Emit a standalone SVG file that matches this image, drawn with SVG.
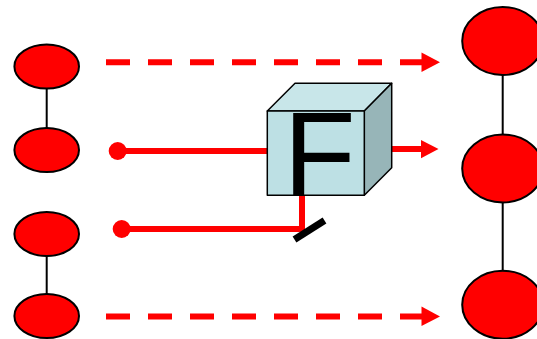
<svg xmlns="http://www.w3.org/2000/svg" width="537" height="339" viewBox="0 0 537 339">
  <style>
    .node { fill: #ff0000; stroke: #000; stroke-width: 2; }
    .link { stroke: #000; stroke-width: 2; fill: none; }
    .beam { stroke: #ff0000; stroke-width: 6; fill: none; }
    .dash { stroke-dasharray: 24 18; }
    .head { fill: #ff0000; }
    .face { stroke: #000; stroke-width: 1.5; stroke-linejoin: round; }
  </style>

  <!-- connectors -->
  <g id="connectors">
    <!-- links inside the left pairs and the right column -->
    <line class="link" x1="46.7" y1="88.5" x2="46.7" y2="128"/>
    <line class="link" x1="46.7" y1="256" x2="46.7" y2="294"/>
    <line class="link" x1="502.7" y1="75" x2="502.7" y2="135"/>
    <line class="link" x1="502.7" y1="202" x2="502.7" y2="271"/>

    <!-- dashed beams, top and bottom -->
    <line class="beam dash" x1="106" y1="62.3" x2="424" y2="62.3"/>
    <polygon class="head" points="421.5,52.5 440,62.3 421.5,72"/>
    <line class="beam dash" x1="106" y1="316.5" x2="424" y2="316.5"/>
    <polygon class="head" points="421.5,306.5 440,316.5 421.5,326"/>

    <!-- beam into the cube -->
    <circle cx="117.7" cy="151" r="9" fill="#ff0000"/>
    <line class="beam" x1="117.7" y1="151" x2="268" y2="151"/>

    <!-- beam out of the cube -->
    <line class="beam" x1="390" y1="149" x2="423" y2="149"/>
    <polygon class="head" points="421,140 438.5,149 421,158.3"/>

    <!-- lower beam folded up into the cube -->
    <circle cx="121.7" cy="229" r="9" fill="#ff0000"/>
    <polyline class="beam" points="121.7,229 302,229 302,195"/>
    <line x1="294.5" y1="239.5" x2="324.5" y2="220.5" stroke="#000" stroke-width="7"/>
  </g>

  <!-- left column of nodes -->
  <g id="left-1"><ellipse class="node" cx="46.7" cy="66.5" rx="32.3" ry="22"/></g>
  <g id="left-2"><ellipse class="node" cx="46.7" cy="150" rx="32.3" ry="22"/></g>
  <g id="left-3"><ellipse class="node" cx="46.7" cy="234" rx="32.3" ry="22"/></g>
  <g id="left-4"><ellipse class="node" cx="46.7" cy="316" rx="32.3" ry="22"/></g>

  <!-- right column of nodes -->
  <g id="right-1"><ellipse class="node" cx="502.7" cy="41" rx="40.5" ry="34"/></g>
  <g id="right-2"><ellipse class="node" cx="502.7" cy="168.5" rx="40.5" ry="34"/></g>
  <g id="right-3"><ellipse class="node" cx="502.7" cy="304.7" rx="40.5" ry="34"/></g>

  <!-- the F cube -->
  <g id="cube-f">
    <polygon class="face" fill="#c8e6e9" points="267.3,111 295,83.3 391.7,83.3 364.3,111"/>
    <polygon class="face" fill="#97b5b8" points="364.3,111 391.7,83.3 391.7,167.7 364.3,195.3"/>
    <rect class="face" fill="#bde0e4" x="267.3" y="111" width="97" height="84.3"/>
    <text x="283.5" y="194.5" font-family="Liberation Sans, Arial, sans-serif" font-size="118" fill="#000">F</text>
  </g>
</svg>
